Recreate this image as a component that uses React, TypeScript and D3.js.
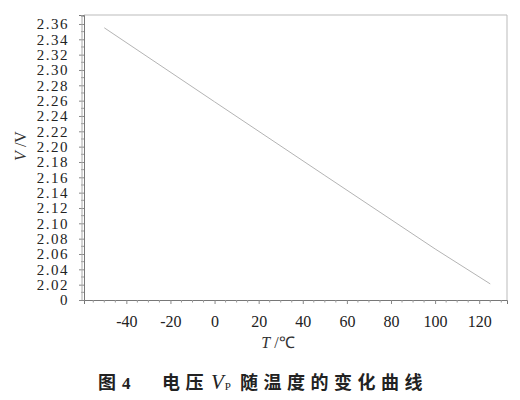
import * as d3 from 'd3';
import React, { useEffect, useRef } from 'react';

// temperature (°C) and voltage V_P (V)
const temps = [-50, 0, 50, 100, 125];
const volts = [2.355, 2.2585, 2.1624, 2.0666, 2.021];

const yTicks = [2.0, 2.02, 2.04, 2.06, 2.08, 2.1, 2.12, 2.14, 2.16, 2.18, 2.2, 2.22, 2.24, 2.26, 2.28, 2.3, 2.32, 2.34, 2.36];
const xTicks = [-40, -20, 0, 20, 40, 60, 80, 100, 120];

const SERIF = '"Liberation Serif", "Times New Roman", serif';
const CJK = '"Noto Sans CJK SC", sans-serif';

const App: React.FC = () => {
  const ref = useRef<SVGSVGElement | null>(null);

  useEffect(() => {
    if (!ref.current) return;
    const svg = d3.select(ref.current);
    svg.selectAll('*').remove();

    const left = 84;
    const right = 507;
    const top = 15;
    const bottom = 300;

    const x = d3.scaleLinear().domain([-59.2, 132.6]).range([left, right]);
    const y = d3.scaleLinear().domain([2.0, 2.3717]).range([bottom, top]);

    // frame (top and right, light)
    svg
      .append('path')
      .attr('d', `M${left},${top}H${right}V${bottom}`)
      .attr('fill', 'none')
      .attr('stroke', '#bbb')
      .attr('stroke-width', 1);

    // y axis
    const yAxis = d3
      .axisLeft(y)
      .tickValues(yTicks)
      .tickSize(5)
      .tickFormat((d) => ((d as number) === 2 ? '0' : d3.format('.2f')(d as number)));

    const gy = svg
      .append('g')
      .attr('transform', `translate(${left},0)`)
      .call(yAxis)
      .attr('font-family', SERIF)
      .attr('font-size', 15);
    gy.select('.domain').attr('stroke', '#777');
    gy.selectAll('.tick line').attr('stroke', '#888');
    gy.selectAll('.tick text')
      .attr('x', -15)
      .attr('fill', '#222')
      .style('font-family', SERIF)
      .style('letter-spacing', '1.5px');

    // minor y ticks
    const minorY = d3.range(2.01, 2.37, 0.02);
    svg
      .append('g')
      .selectAll('line')
      .data(minorY)
      .enter()
      .append('line')
      .attr('x1', left - 3)
      .attr('x2', left)
      .attr('y1', (d) => y(d))
      .attr('y2', (d) => y(d))
      .attr('stroke', '#999');

    // double left line
    svg
      .append('line')
      .attr('x1', left - 2)
      .attr('x2', left - 2)
      .attr('y1', top)
      .attr('y2', bottom)
      .attr('stroke', '#aaa');

    // x axis
    const xAxis = d3
      .axisBottom(x)
      .tickValues(xTicks)
      .tickSize(4)
      .tickFormat((d) => String(d));
    const gx = svg
      .append('g')
      .attr('transform', `translate(0,${bottom})`)
      .call(xAxis)
      .attr('font-family', SERIF)
      .attr('font-size', 16);
    gx.select('.domain').attr('stroke', '#777');
    gx.selectAll('.tick line').attr('stroke', '#888');
    gx.selectAll('.tick text')
      .attr('y', 16)
      .attr('fill', '#222')
      .style('font-family', SERIF);

    const minorX = d3.range(-55, 135, 5).filter((t) => t % 20 !== 0);
    svg
      .append('g')
      .selectAll('line')
      .data(minorX)
      .enter()
      .append('line')
      .attr('x1', (d) => x(d))
      .attr('x2', (d) => x(d))
      .attr('y1', bottom)
      .attr('y2', bottom + 2.5)
      .attr('stroke', '#999');

    // curve
    const line = d3
      .line<number>()
      .x((_, i) => x(temps[i]))
      .y((d) => y(d));

    svg
      .append('path')
      .datum(volts)
      .attr('fill', 'none')
      .attr('stroke', '#b4b4b4')
      .attr('stroke-width', 1)
      .attr('d', line);

    // axis titles
    const xt = svg
      .append('text')
      .attr('x', 278)
      .attr('y', 348)
      .attr('text-anchor', 'middle')
      .attr('fill', '#333')
      .attr('font-family', SERIF)
      .attr('font-size', 16);
    xt.append('tspan').attr('font-style', 'italic').text('T');
    xt.append('tspan').text(' /℃');

    const yt = svg
      .append('text')
      .attr('transform', 'translate(26,146) rotate(-90)')
      .attr('text-anchor', 'middle')
      .attr('fill', '#333')
      .attr('font-family', SERIF)
      .attr('font-size', 16);
    yt.append('tspan').attr('font-style', 'italic').text('V');
    yt.append('tspan').text(' /V');

    // caption
    const capY = 389;
    const cjk = (tx: number, s: string) =>
      svg
        .append('text')
        .attr('x', tx)
        .attr('y', capY)
        .attr('fill', '#222')
        .attr('font-family', CJK)
        .attr('font-weight', 600)
        .attr('font-size', 18)
        .style('letter-spacing', '5.5px')
        .text(s);
    cjk(98, '图');
    svg
      .append('text')
      .attr('x', 122)
      .attr('y', capY)
      .attr('fill', '#222')
      .attr('font-family', SERIF)
      .attr('font-weight', 700)
      .attr('font-size', 17)
      .text('4');
    cjk(162, '电压');
    const v = svg
      .append('text')
      .attr('x', 211)
      .attr('y', capY)
      .attr('fill', '#222')
      .attr('font-family', SERIF);
    v.append('tspan').attr('font-style', 'italic').attr('font-size', 21).text('V');
    v.append('tspan').attr('font-size', 11).attr('dx', 1).attr('dy', 1).text('P');
    cjk(240, '随温度的变化曲线');
  }, []);

  return (
    <svg
      ref={ref}
      width={520}
      height={400}
      style={{ position: 'absolute', left: 0, top: 0, background: '#fff' }}
    />
  );
};

export default App;
